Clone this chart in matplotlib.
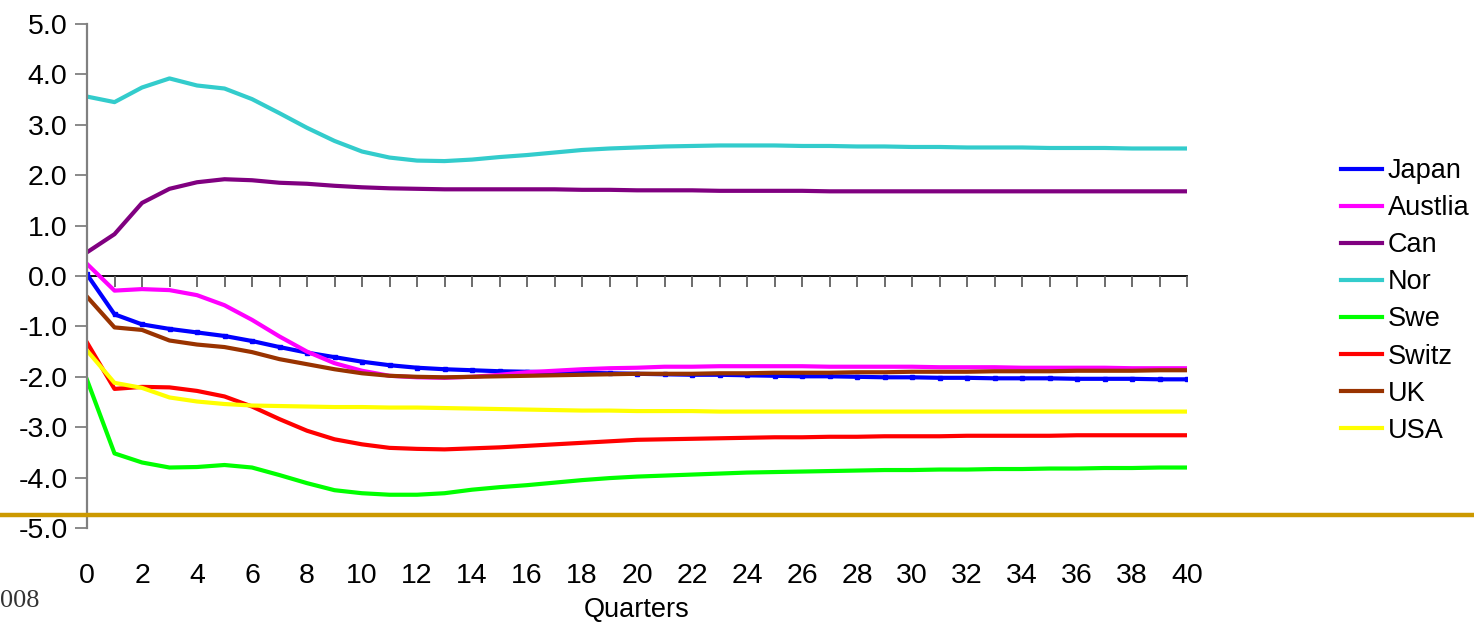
import matplotlib
matplotlib.use("Agg")
import matplotlib.pyplot as plt
from matplotlib.lines import Line2D
import numpy as np

plt.rcParams['font.family'] = ['Liberation Sans', 'DejaVu Sans']

quarters = list(range(41))

japan = [0.03, -0.76, -0.96, -1.05, -1.12, -1.19, -1.29, -1.41, -1.52, -1.61, -1.70,
         -1.77, -1.82, -1.85, -1.87, -1.89, -1.90, -1.91, -1.92, -1.93, -1.94,
         -1.95, -1.96, -1.96, -1.97, -1.98, -1.99, -1.99, -2.00, -2.01, -2.01,
         -2.02, -2.02, -2.03, -2.03, -2.03, -2.04, -2.04, -2.04, -2.05, -2.05]
austlia = [0.24, -0.29, -0.26, -0.28, -0.38, -0.58, -0.87, -1.20, -1.50, -1.73, -1.88,
           -1.98, -2.01, -2.02, -2.00, -1.96, -1.91, -1.88, -1.85, -1.83, -1.82,
           -1.80, -1.80, -1.79, -1.79, -1.79, -1.79, -1.80, -1.80, -1.80, -1.80,
           -1.81, -1.81, -1.81, -1.82, -1.82, -1.82, -1.82, -1.83, -1.83, -1.83]
can = [0.47, 0.83, 1.45, 1.73, 1.86, 1.92, 1.90, 1.85, 1.83, 1.79, 1.76,
       1.74, 1.73, 1.72, 1.72, 1.72, 1.72, 1.72, 1.71, 1.71, 1.70,
       1.70, 1.70, 1.69, 1.69, 1.69, 1.69, 1.68, 1.68, 1.68, 1.68,
       1.68, 1.68, 1.68, 1.68, 1.68, 1.68, 1.68, 1.68, 1.68, 1.68]
nor = [3.56, 3.45, 3.74, 3.92, 3.78, 3.72, 3.51, 3.23, 2.94, 2.68, 2.47,
       2.35, 2.29, 2.28, 2.31, 2.36, 2.40, 2.45, 2.50, 2.53, 2.55,
       2.57, 2.58, 2.59, 2.59, 2.59, 2.58, 2.58, 2.57, 2.57, 2.56,
       2.56, 2.55, 2.55, 2.55, 2.54, 2.54, 2.54, 2.53, 2.53, 2.53]
swe = [-2.06, -3.52, -3.70, -3.80, -3.79, -3.75, -3.80, -3.95, -4.11, -4.25, -4.31,
       -4.34, -4.34, -4.31, -4.24, -4.19, -4.15, -4.10, -4.05, -4.01, -3.98,
       -3.96, -3.94, -3.92, -3.90, -3.89, -3.88, -3.87, -3.86, -3.85, -3.85,
       -3.84, -3.84, -3.83, -3.83, -3.82, -3.82, -3.81, -3.81, -3.80, -3.80]
switz = [-1.32, -2.24, -2.20, -2.21, -2.28, -2.39, -2.59, -2.84, -3.07, -3.24, -3.34,
         -3.41, -3.43, -3.44, -3.42, -3.40, -3.37, -3.34, -3.31, -3.28, -3.25,
         -3.24, -3.23, -3.22, -3.21, -3.20, -3.20, -3.19, -3.19, -3.18, -3.18,
         -3.18, -3.17, -3.17, -3.17, -3.17, -3.16, -3.16, -3.16, -3.16, -3.16]
uk = [-0.41, -1.02, -1.07, -1.28, -1.36, -1.41, -1.51, -1.65, -1.75, -1.85, -1.93,
      -1.98, -2.00, -2.01, -2.00, -1.99, -1.98, -1.97, -1.96, -1.95, -1.94,
      -1.94, -1.94, -1.93, -1.93, -1.92, -1.92, -1.92, -1.91, -1.91, -1.90,
      -1.90, -1.90, -1.89, -1.89, -1.89, -1.88, -1.88, -1.88, -1.87, -1.87]
usa = [-1.48, -2.12, -2.22, -2.41, -2.49, -2.54, -2.57, -2.58, -2.59, -2.60, -2.60,
       -2.61, -2.61, -2.62, -2.63, -2.64, -2.65, -2.66, -2.67, -2.67, -2.68,
       -2.68, -2.68, -2.69, -2.69, -2.69, -2.69, -2.69, -2.69, -2.69, -2.69,
       -2.69, -2.69, -2.69, -2.69, -2.69, -2.69, -2.69, -2.69, -2.69, -2.69]

series_names = ['Japan', 'Austlia', 'Can', 'Nor', 'Swe', 'Switz', 'UK', 'USA']
series_values = [japan, austlia, can, nor, swe, switz, uk, usa]
series_colors = ['#0000FF', '#FF00FF', '#800080', '#33CCCC',
                 '#00FF00', '#FF0000', '#993300', '#FFFF00']

y_ticks = [5.0, 4.0, 3.0, 2.0, 1.0, 0.0, -1.0, -2.0, -3.0, -4.0, -5.0]
x_label_ticks = list(range(0, 41, 2))

fig = plt.figure(figsize=(14.74, 6.24), dpi=100)
ax = fig.add_axes([87 / 1474, 1 - 528 / 624, 1100 / 1474, 504 / 624])

handles = []
for name, vals, col in zip(series_names, series_values, series_colors):
    if name == 'Japan':
        h, = ax.plot(quarters, vals, color=col, lw=3, marker='s', markersize=3.5,
                     label=name, solid_joinstyle='round')
    else:
        h, = ax.plot(quarters, vals, color=col, lw=3, label=name,
                     solid_joinstyle='round')
    handles.append(h)

ax.set_xlim(0, 40)
ax.set_ylim(-5, 5)

# spines: grey vertical axis, horizontal axis through zero
for s in ['top', 'right']:
    ax.spines[s].set_visible(False)
ax.spines['left'].set_color('#808080')
ax.spines['left'].set_linewidth(1.6)
ax.spines['bottom'].set_position(('data', 0))
ax.spines['bottom'].set_color('black')
ax.spines['bottom'].set_linewidth(1.3)
ax.spines['bottom'].set_zorder(1)

ax.set_yticks(y_ticks)
ax.set_yticklabels([f'{v:.1f}' for v in y_ticks], fontsize=20.5)
ax.tick_params(axis='y', direction='out', length=9, width=1.3, color='#808080', pad=5)

ax.set_xticks(quarters)
ax.tick_params(axis='x', direction='out', length=8, width=1.3, color='#606060',
               labelbottom=False)

# category labels along the bottom edge
sec = ax.secondary_xaxis('bottom')
sec.set_xticks(x_label_ticks)
sec.set_xticklabels([str(v) for v in x_label_ticks], fontsize=20.5)
sec.tick_params(axis='x', length=0, pad=25)
sec.spines['bottom'].set_visible(False)
sec.set_xlabel('Quarters', fontsize=19.5, labelpad=6)

leg = fig.legend(handles=handles, loc='upper left',
                 bbox_to_anchor=(1341 / 1474, 1 - 158 / 624),
                 frameon=False, fontsize=19.5, handlelength=1.5, handletextpad=0.22,
                 labelspacing=0.41, borderpad=0, borderaxespad=0)
for line in leg.get_lines():
    line.set_linewidth(3)
    line.set_marker('')

# horizontal rule across the page
fig.add_artist(Line2D([0, 1], [1 - 515 / 624, 1 - 515 / 624], transform=fig.transFigure,
                      color='#CC9900', lw=3.2, zorder=10))

fig.text(0.0, 1 - 601 / 624, '008', fontsize=19, family='Liberation Serif',
         color='#333333', ha='left', va='center')

fig.savefig('out.png', dpi=100)
